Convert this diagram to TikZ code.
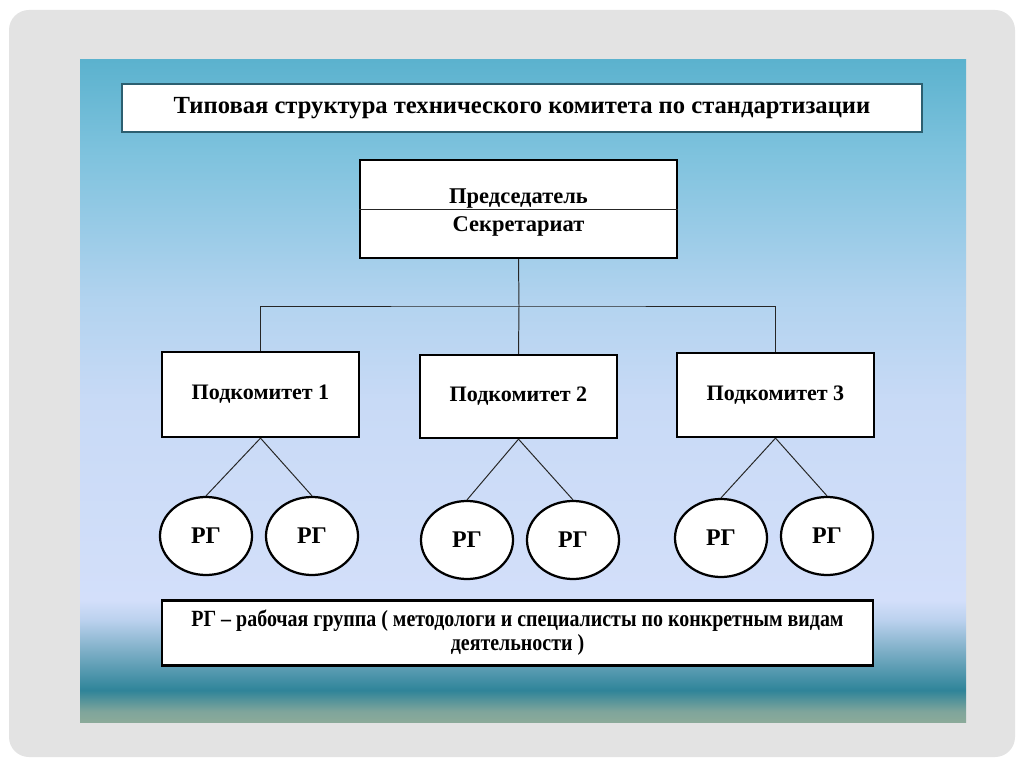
\documentclass[tikz,border=0pt]{standalone}
\usepackage{fontspec}
\setmainfont{Liberation Serif}
\newfontfamily\narrowserif[FakeStretch=0.86]{Liberation Serif}
\usepackage{xcolor}
\usetikzlibrary{shapes.geometric}

\definecolor{framegray}{HTML}{E3E3E3}
\definecolor{titleedge}{HTML}{2C5F70}
\definecolor{bgTop}{HTML}{5BB2CE}
\definecolor{bgA}{HTML}{7DC2DD}
\definecolor{bgB}{HTML}{B2D3EF}
\definecolor{bgC}{HTML}{C8DAF6}
\definecolor{bgD}{HTML}{D3DFFA}
\definecolor{bgE}{HTML}{BBD1EE}
\definecolor{bgF}{HTML}{7EAFC7}
\definecolor{bgG}{HTML}{2F8499}
\definecolor{bgH}{HTML}{7FA59B}
\definecolor{bgI}{HTML}{8BAA9A}
\pgfdeclareverticalshading{slidebg}{100bp}{%
  color(0bp)=(bgI); color(25bp)=(bgI); color(25.8bp)=(bgH);
  color(27.4bp)=(bgG); color(30.4bp)=(bgF); color(32.7bp)=(bgE);
  color(34.2bp)=(bgD); color(49.3bp)=(bgC); color(56.9bp)=(bgB);
  color(68.2bp)=(bgA); color(75bp)=(bgTop); color(100bp)=(bgTop)}

\tikzset{
  box/.style={draw=black, line width=1.6pt, fill=white, inner sep=0pt,
    font=\bfseries\fontsize{15.7}{18}\selectfont},
  rg/.style={ellipse, draw=black, line width=1.6pt, fill=white,
    minimum width=2.3cm, minimum height=1.95cm, inner sep=0pt,
    font=\bfseries\fontsize{17}{20}\selectfont},
  link/.style={draw=black!85, line width=0.7pt},
  chairtext/.style={anchor=base, inner sep=0pt, font=\bfseries\fontsize{16}{19}\selectfont}
}

\begin{document}
\begin{tikzpicture}[x=0.025cm, y=-0.025cm]
  % slide frame
  \fill[white] (0,0) rectangle (1024,767);
  \fill[framegray, rounded corners=0.5cm] (9,10) rectangle (1015,757);
  \shade[shading=slidebg] (80,60) rectangle (966,722);

  % title
  \node[draw=titleedge, line width=1pt, fill=white,
    minimum width=20cm, minimum height=1.2cm,
    font=\bfseries\fontsize{17.5}{20}\selectfont] (title) at (522,108)
    {Типовая структура технического комитета по стандартизации};

  % chairman
  \node[box, minimum width=7.925cm, minimum height=2.45cm] (chair) at (518.5,209) {};
  \draw[link] (chair.west) -- (chair.east);
  \node[chairtext, yshift=0.125cm] (chairman) at (chair.center) {Председатель};
  \node[chairtext, yshift=-0.55cm] (secretary) at (chair.center) {Секретариат};

  % subcommittees
  \node[box, minimum width=4.925cm, minimum height=2.125cm] (sub1) at (260.5,394.5) {Подкомитет 1};
  \node[box, minimum width=4.925cm, minimum height=2.075cm] (sub2) at (518.5,396.5) {Подкомитет 2};
  \node[box, minimum width=4.925cm, minimum height=2.1cm] (sub3) at (775.5,395) {Подкомитет 3};

  \coordinate (hub) at (519,306);
  \draw[link] (chair.south) -- (hub);
  \draw[link] (sub1.north) |- (hub) -| (sub3.north);
  \draw[link] (hub) -- (sub2.north);

  % working groups
  \node[rg] (rg11) at (206,536) {РГ};
  \node[rg] (rg12) at (312,536) {РГ};
  \node[rg] (rg21) at (467,540) {РГ};
  \node[rg] (rg22) at (573,540) {РГ};
  \node[rg] (rg31) at (721,538) {РГ};
  \node[rg] (rg32) at (827,536) {РГ};

  \draw[link] (sub1.south) -- (rg11.north);
  \draw[link] (sub1.south) -- (rg12.north);
  \draw[link] (sub2.south) -- (rg21.north);
  \draw[link] (sub2.south) -- (rg22.north);
  \draw[link] (sub3.south) -- (rg31.north);
  \draw[link] (sub3.south) -- (rg32.north);

  % legend
  \node[box, minimum width=17.775cm, minimum height=1.625cm, align=center,
    font=\narrowserif\bfseries\fontsize{16.5}{17}\selectfont] (legend) at (517.5,633)
    {РГ – рабочая группа ( методологи и специалисты по конкретным видам\\деятельности )};
\end{tikzpicture}
\end{document}
